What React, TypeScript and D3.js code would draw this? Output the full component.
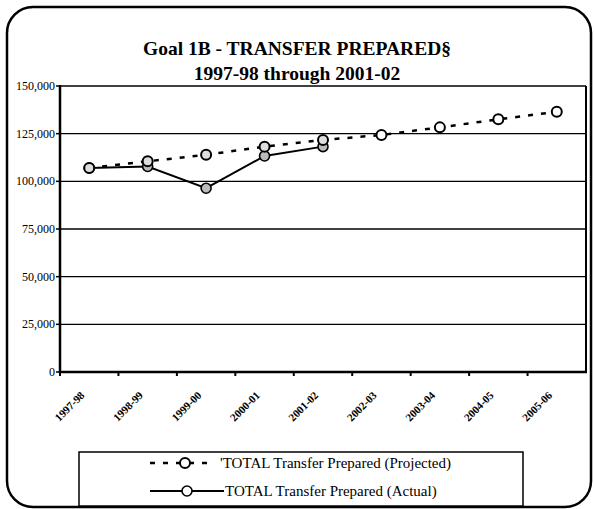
import React from "react";
import * as d3 from "d3";

const years = ["1997-98", "1998-99", "1999-00", "2000-01", "2001-02", "2002-03", "2003-04", "2004-05", "2005-06"];
const projected = [107000, 110500, 113900, 118200, 121700, 124300, 128300, 132500, 136500];
const actual = [107000, 107800, 96400, 113300, 118200];
const yTicks = [0, 25000, 50000, 75000, 100000, 125000, 150000];
const legendLabels = ["'TOTAL Transfer Prepared (Projected)", "TOTAL Transfer Prepared (Actual)"];

const W = 594, H = 509;
const plot = { left: 60, right: 586, top: 86, bottom: 372 };
const serif = "'Liberation Serif', 'Times New Roman', serif";

export default function App() {
  const x = d3.scaleBand<string>().domain(years).range([plot.left, plot.right]);
  const y = d3.scaleLinear().domain([0, 150000]).range([plot.bottom, plot.top]);
  const cx = (i: number) => (x(years[i]) as number) + x.bandwidth() / 2;

  const line = d3.line<number>().x((_, i) => cx(i)).y(d => y(d));
  const fmt = d3.format(",");

  return (
    <svg width={W} height={H} style={{ position: "absolute", left: 0, top: 0, background: "#fff" }}>
      {/* outer frame */}
      <rect x={7} y={7} width={584} height={500} rx={26} ry={26} fill="none" stroke="#000" strokeWidth={2.5} />

      <text x={297} y={55} textAnchor="middle" fontFamily={serif} fontWeight="bold" fontSize={19.5}>
        Goal 1B - TRANSFER PREPARED§
      </text>
      <text x={297} y={80} textAnchor="middle" fontFamily={serif} fontWeight="bold" fontSize={19.5}>
        1997-98 through 2001-02
      </text>

      {/* gridlines + y ticks */}
      {yTicks.map(t => (
        <g key={t}>
          {t > 0 && <line x1={plot.left} x2={plot.right} y1={y(t)} y2={y(t)} stroke="#000" strokeWidth={1.3} />}
          <line x1={plot.left - 4} x2={plot.left} y1={y(t)} y2={y(t)} stroke="#000" strokeWidth={1.5} />
          <text x={plot.left - 5} y={y(t) + 4} textAnchor="end" fontFamily={serif} fontSize={12}>
            {fmt(t)}
          </text>
        </g>
      ))}
      <line x1={plot.right} x2={plot.right} y1={plot.top} y2={plot.bottom} stroke="#000" strokeWidth={2} />
      <line x1={plot.left} x2={plot.left} y1={plot.top - 1} y2={plot.bottom + 1} stroke="#000" strokeWidth={2.5} />
      <line x1={plot.left} x2={plot.right + 1} y1={plot.bottom} y2={plot.bottom} stroke="#000" strokeWidth={2.5} />

      {/* x ticks + labels */}
      {years.map((yr, i) => (
        <g key={yr}>
          <line x1={x(yr) as number} x2={x(yr) as number} y1={plot.bottom} y2={plot.bottom + 4} stroke="#000" strokeWidth={2} />
          <text
            transform={`translate(${cx(i) - 4},${plot.bottom + 24}) rotate(-45)`}
            textAnchor="end"
            fontFamily={serif}
            fontWeight="bold"
            fontSize={11}
          >
            {yr}
          </text>
        </g>
      ))}

      {/* projected series */}
      <path d={line(projected) ?? ""} fill="none" stroke="#000" strokeWidth={2.5} strokeDasharray="5,8" />
      {/* actual series */}
      <path d={line(actual) ?? ""} fill="none" stroke="#000" strokeWidth={2} />
      {actual.map((v, i) => (
        <circle key={"a" + i} cx={cx(i)} cy={y(v)} r={5} fill="#bbb" stroke="#000" strokeWidth={1.6} />
      ))}
      {projected.map((v, i) => (
        <circle key={"p" + i} cx={cx(i)} cy={y(v)} r={5} fill={i < actual.length ? "#ddd" : "#fff"} stroke="#000" strokeWidth={2} />
      ))}

      {/* legend */}
      <rect x={79} y={452} width={444} height={54} fill="#fff" stroke="#000" strokeWidth={1.5} />
      <line x1={150} x2={214} y1={463} y2={463} stroke="#000" strokeWidth={2.5} strokeDasharray="5,8" />
      <circle cx={185} cy={463} r={5} fill="#fff" stroke="#000" strokeWidth={2} />
      <text x={220} y={468} fontFamily={serif} fontSize={15}>{legendLabels[0]}</text>
      <line x1={150} x2={224} y1={491} y2={491} stroke="#000" strokeWidth={2} />
      <circle cx={187} cy={491} r={5} fill="#fff" stroke="#000" strokeWidth={1.6} />
      <text x={225} y={496} fontFamily={serif} fontSize={15}>{legendLabels[1]}</text>
    </svg>
  );
}
